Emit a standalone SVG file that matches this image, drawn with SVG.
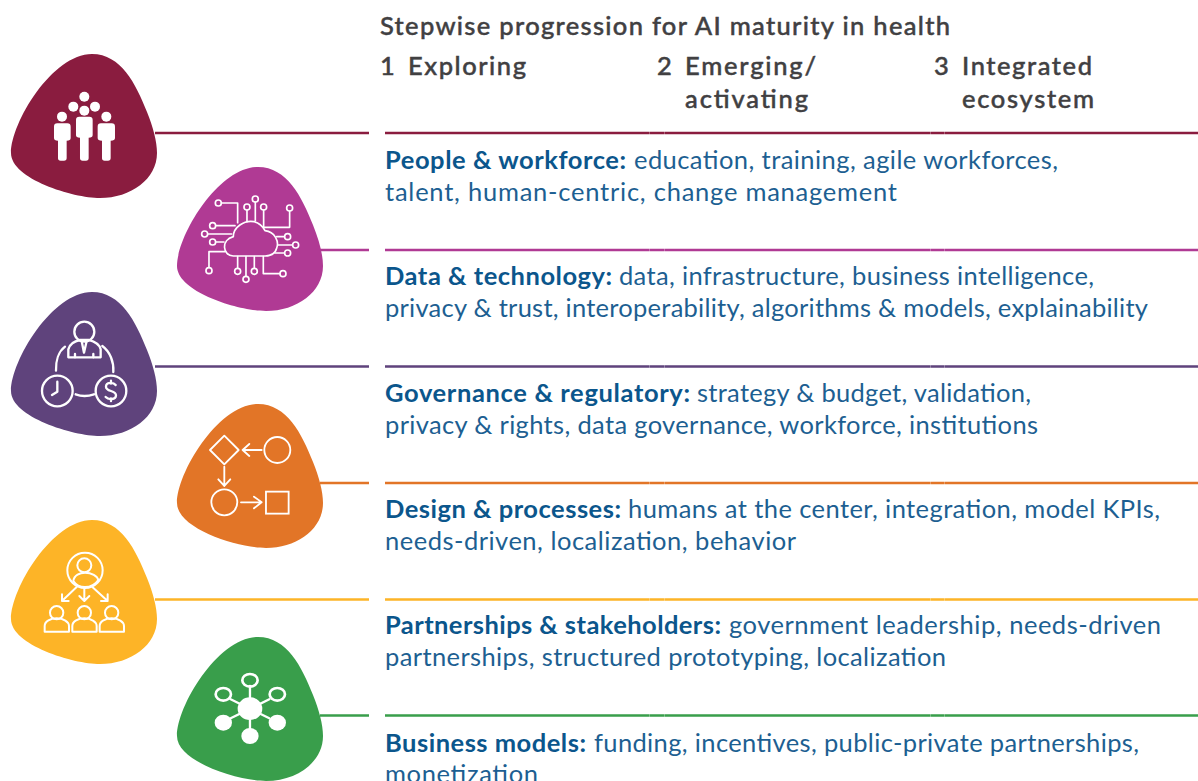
<svg xmlns="http://www.w3.org/2000/svg" width="1198" height="781" viewBox="0 0 1198 781">
<style>
text{font-family:"Lato","Noto Sans","Liberation Sans",sans-serif}
.h{font-size:25.5px;fill:#414042;font-weight:500;stroke:#414042;stroke-width:.45px}
.b{font-size:25.5px;fill:#1d5f92}
.s{font-weight:700;fill:#0b568c}
.l{stroke-width:2.600;fill:none}
.d{stroke-dasharray:264 .3 14.7 .3 265.700 .3 13.7 .3 260}
.i{fill:none;stroke:#fff;stroke-width:7;stroke-linecap:round;stroke-linejoin:round}
.f{fill:#fff;stroke:none}
</style>
<defs>
<path id="blob" d="M92 54C121 54 136 84 147 112C153 127 157 141 157 153C157 179 131 198 100 198C73 198 11 179 11 153C11 123 52 54 92 54Z"/>
</defs>
<rect width="1198" height="781" fill="#fff"/>
<g id="connectors">
<path class="l" stroke="#8a1c3f" d="M155 133H369"/><path class="l d" stroke="#8a1c3f" d="M385 133H1198"/>
<path class="l" stroke="#b03a94" d="M320 250H369"/><path class="l d" stroke="#b03a94" d="M385 250H1198"/>
<path class="l" stroke="#5f437c" d="M155 366.500H369"/><path class="l d" stroke="#5f437c" d="M385 366.500H1198"/>
<path class="l" stroke="#e27527" d="M320 483H369"/><path class="l d" stroke="#e27527" d="M385 483H1198"/>
<path class="l" stroke="#fdb427" d="M155 599.500H369"/><path class="l d" stroke="#fdb427" d="M385 599.500H1198"/>
<path class="l" stroke="#399e4b" d="M320 715.500H369"/><path class="l d" stroke="#399e4b" d="M385 715.500H1198"/>
</g>
<g id="header">
<text class="h" x="380" y="34.500" textLength="570">Stepwise progression for AI maturity in health</text>
<text class="h" x="380" y="75">1</text><text class="h" x="408" y="75" textLength="118">Exploring</text>
<text class="h" x="657" y="75">2</text><text class="h" x="685" y="75" textLength="131">Emerging/</text><text class="h" x="685" y="108" textLength="123">activating</text>
<text class="h" x="934" y="75">3</text><text class="h" x="962" y="75" textLength="130">Integrated</text><text class="h" x="962" y="108" textLength="132">ecosystem</text>
</g>
<g id="node-people">
<use href="#blob" fill="#8a1c3f"/>
<g transform="translate(0,40) scale(.3333)">
<g class="f"><circle cx="253" cy="170" r="15"/><circle cx="220" cy="200" r="15"/><circle cx="285" cy="200" r="15"/><circle cx="253" cy="212" r="15"/><circle cx="186" cy="230" r="15"/><circle cx="319" cy="230" r="15"/>
<path d="M238 230H268Q278 230 278 240V285Q278 293 266 293V354Q266 362 258 362H248Q240 362 240 354V293Q228 293 228 285V240Q228 230 238 230Z"/>
<path d="M172 250H202Q212 250 212 260V294Q212 302 200 302V354Q200 362 192 362H182Q174 362 174 354V302Q162 302 162 294V260Q162 250 172 250Z"/>
<path d="M303 250H335Q345 250 345 260V294Q345 302 332 302V354Q332 362 324 362H314Q306 362 306 354V302Q293 302 293 294V260Q293 250 303 250Z"/></g>
</g>
<text class="b s" x="385" y="169" textLength="241">People &amp; workforce:</text>
<text class="b" x="634" y="169" textLength="424">education, training, agile workforces,</text>
<text class="b" x="385" y="201" textLength="512">talent, human-centric, change management</text>
</g>
<g id="node-data">
<use href="#blob" x="166" y="113" fill="#b03a94"/>
<g transform="translate(0,40) scale(.3333)" class="i" style="stroke-width:5">
<path d="M700 648C668 648 662 600 700 590C700 562 732 540 762 545C780 550 790 562 795 572C825 575 838 605 830 625C825 645 810 648 795 648Z"/>
<circle cx="655" cy="489" r="9"/><path d="M665 489H713V548"/>
<circle cx="741" cy="501" r="9"/><path d="M741 511V545"/>
<circle cx="766" cy="477" r="9"/><path d="M766 487V542"/>
<circle cx="791" cy="501" r="9"/><path d="M791 511V562H869V514"/><circle cx="869" cy="504" r="9"/>
<circle cx="638" cy="557" r="9"/><path d="M648 557H705"/>
<circle cx="614" cy="582" r="9"/><path d="M624 582H695"/>
<circle cx="638" cy="606" r="9"/><path d="M648 606H672"/>
<circle cx="627" cy="692" r="9"/><path d="M627 682V635H675"/>
<circle cx="713" cy="694" r="9"/><path d="M713 684V650"/>
<circle cx="738" cy="718" r="9"/><path d="M738 708V650"/>
<circle cx="763" cy="694" r="9"/><path d="M763 684V650"/>
<circle cx="849" cy="701" r="9"/><path d="M839 701H790V650"/>
<circle cx="863" cy="590" r="9"/><path d="M853 590H830"/>
<circle cx="887" cy="615" r="9"/><path d="M877 615H835"/>
<circle cx="863" cy="639" r="9"/><path d="M853 639H825"/>
</g>
<text class="b s" x="385" y="285" textLength="227">Data &amp; technology:</text>
<text class="b" x="619" y="285" textLength="475">data, infrastructure, business intelligence,</text>
<text class="b" x="385" y="317" textLength="763">privacy &amp; trust, interoperability, algorithms &amp; models, explainability</text>
</g>
<g id="node-governance">
<use href="#blob" y="238" fill="#5f437c"/>
<g transform="translate(0,280) scale(.3333)" class="i">
<circle cx="253" cy="155" r="30"/>
<path d="M205 232V208C210 190 225 183 240 180H266C285 185 298 192 302 208V232Z"/>
<path d="M245 183L252 218L260 183M225 222V232M280 222V232"/>
<path d="M195 200C175 215 167 245 168 272M307 198C330 215 342 245 340 276"/>
<circle cx="172" cy="333" r="46"/><path d="M172 305V335L156 345"/>
<circle cx="333" cy="333" r="46"/><path d="M347 315C340 306 318 306 318 320C318 336 348 330 348 346C348 360 325 360 317 351M333 302V311M333 355V363"/>
<path d="M227 343C245 350 262 350 282 343"/>
</g>
<text class="b s" x="385" y="402" textLength="305">Governance &amp; regulatory:</text>
<text class="b" x="697" y="402" textLength="334">strategy &amp; budget, validation,</text>
<text class="b" x="385" y="434" textLength="653">privacy &amp; rights, data governance, workforce, institutions</text>
</g>
<g id="node-design">
<use href="#blob" x="166" y="350" fill="#e27527"/>
<g transform="translate(0,280) scale(.3333)" class="i" style="stroke-width:5.500">
<path d="M673 467L716 510L673 553L630 510Z"/>
<path d="M785 510H728M748 492L728 510L748 528"/>
<circle cx="832" cy="510" r="39"/>
<path d="M673 560V618M655 598L673 618L691 598"/>
<circle cx="673" cy="667" r="39"/>
<path d="M723 667H785M762 650L785 667L762 685"/>
<rect x="798" y="635" width="68" height="66" style="stroke-linejoin:miter"/>
</g>
<text class="b s" x="385" y="518" textLength="236">Design &amp; processes:</text>
<text class="b" x="628" y="518" textLength="532">humans at the center, integration, model KPIs,</text>
<text class="b" x="385" y="550" textLength="411">needs-driven, localization, behavior</text>
</g>
<g id="node-partnerships">
<use href="#blob" y="466" fill="#fdb427"/>
<g transform="translate(0,511) scale(.3333)" class="i" style="stroke-width:6">
<circle cx="255" cy="178" r="53"/><circle cx="253" cy="163" r="21"/>
<path d="M220 210C222 192 240 185 255 185C275 185 292 195 295 207C285 222 268 228 255 228C240 228 228 222 220 210Z"/>
<path d="M230 228L186 270M186 250V270H206M253 230V268M238 255L253 270L268 255M277 228L323 270M323 250V270H303"/>
<circle cx="170" cy="305" r="20"/><path d="M134 362V345C134 330 152 322 170 322C190 322 207 332 207 345V362Z"/>
<circle cx="253" cy="305" r="20"/><path d="M217 362V345C217 330 235 322 253 322C273 322 290 332 290 345V362Z"/>
<circle cx="335" cy="305" r="20"/><path d="M299 362V345C299 330 317 322 335 322C355 322 372 332 372 345V362Z"/>
</g>
<text class="b s" x="385" y="634" textLength="336">Partnerships &amp; stakeholders:</text>
<text class="b" x="729" y="634" textLength="432">government leadership, needs-driven</text>
<text class="b" x="385" y="666" textLength="561">partnerships, structured prototyping, localization</text>
</g>
<g id="node-business">
<use href="#blob" x="166" y="583" fill="#399e4b"/>
<g transform="translate(0,511) scale(.3333)">
<path class="i" d="M750 525V675M692 565L808 622M808 565L692 622"/>
<g class="f"><ellipse cx="750" cy="593" rx="37" ry="34"/><ellipse cx="670" cy="635" rx="26" ry="24"/><ellipse cx="832" cy="635" rx="26" ry="24"/><ellipse cx="750" cy="675" rx="26" ry="24"/></g>
<g class="i" style="stroke-width:8"><ellipse cx="750" cy="508" rx="23" ry="19"/><ellipse cx="670" cy="550" rx="23" ry="19"/><ellipse cx="832" cy="550" rx="23" ry="19"/></g>
</g>
<text class="b s" x="385" y="751.500" textLength="201">Business models:</text>
<text class="b" x="594" y="751.500" textLength="545">funding, incentives, public-private partnerships,</text>
<text class="b" x="385" y="783" textLength="153">monetization</text>
</g>
</svg>
